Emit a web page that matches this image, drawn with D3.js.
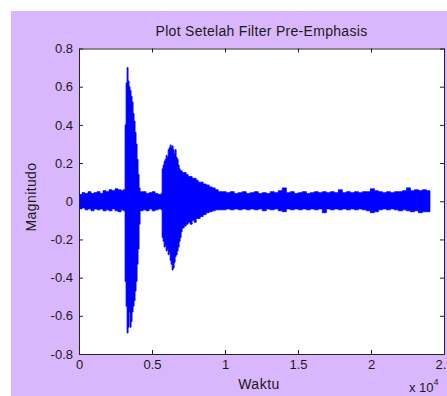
<!DOCTYPE html>
<html>
<head>
<meta charset="utf-8">
<script src="https://cdn.jsdelivr.net/npm/d3@7"></script>
<style>
  body { margin: 0; background: #fff; }
  svg { display: block; }
  .tick text { font-family: "Liberation Sans", Arial, sans-serif; font-size: 13px; fill: #1a1a1a; }
  .tick line, .domain { stroke: #222; }
</style>
</head>
<body>
<div id="chart"></div>
<script>
// sample index, upper envelope and lower envelope of the filtered signal
const sampleIdx = [
  0, 206, 412, 617, 823, 1029, 1235, 1440, 1646, 1852, 2058, 2263, 2469, 2675, 2881, 3018,
  3086, 3155, 3224, 3292, 3361, 3429, 3498, 3567, 3635, 3704, 3772, 3841, 3909, 3978, 4047, 4115, 4184,
  4390, 4595, 4801, 5007, 5213, 5418, 5624,
  5693, 5761, 5830, 5898, 5967, 6036, 6104, 6173, 6241, 6310, 6379, 6447, 6516, 6584, 6653, 6722,
  6790, 6859, 6927, 6996, 7064, 7202, 7339, 7476, 7613, 7750, 7888, 8025, 8162, 8299, 8505, 8711,
  8916, 9122, 9328, 9534,
  9808, 10082, 10357, 10631, 10905, 11180, 11454, 11728, 12003, 12277, 12551, 12826, 13100, 13374,
  13649, 13923, 14198, 14472, 14746, 15021, 15295, 15569, 15844, 16118, 16392, 16667, 16941, 17215,
  17490, 17764, 18038, 18313, 18587, 18861, 19136, 19410, 19685, 19959, 20233, 20508, 20782, 21056,
  21331, 21605, 21879, 22154, 22428, 22702, 22977, 23251, 23525, 23800, 24040
];
const upperEnv = [
  0.035, 0.045, 0.04, 0.05, 0.04, 0.045, 0.05, 0.04, 0.055, 0.05, 0.06, 0.055, 0.065, 0.06, 0.055, 0.06,
  0.06, 0.40, 0.62, 0.70, 0.63, 0.60, 0.58, 0.55, 0.52, 0.46, 0.42, 0.36, 0.30, 0.22, 0.14, 0.07, 0.05,
  0.05, 0.04, 0.045, 0.05, 0.04, 0.035, 0.04,
  0.17, 0.19, 0.21, 0.22, 0.24, 0.23, 0.27, 0.28, 0.295, 0.28, 0.29, 0.27, 0.25, 0.27, 0.23, 0.22,
  0.19, 0.17, 0.16, 0.16, 0.15, 0.15, 0.14, 0.13, 0.13, 0.12, 0.12, 0.11, 0.10, 0.10, 0.09, 0.085,
  0.075, 0.07, 0.06, 0.05,
  0.05, 0.045, 0.05, 0.04, 0.045, 0.05, 0.04, 0.045, 0.05, 0.04, 0.045, 0.04, 0.05, 0.045,
  0.055, 0.07, 0.045, 0.05, 0.04, 0.045, 0.05, 0.04, 0.045, 0.05, 0.045, 0.05, 0.045, 0.05,
  0.045, 0.06, 0.045, 0.05, 0.045, 0.05, 0.045, 0.05, 0.05, 0.065, 0.055, 0.05, 0.045, 0.05,
  0.045, 0.05, 0.05, 0.055, 0.07, 0.055, 0.06, 0.055, 0.06, 0.055, 0.05
];
const lowerEnv = [
  -0.04, -0.035, -0.045, -0.04, -0.05, -0.04, -0.045, -0.04, -0.05, -0.045, -0.05, -0.04, -0.05, -0.055, -0.045, -0.05,
  -0.05, -0.42, -0.55, -0.69, -0.66, -0.58, -0.66, -0.63, -0.58, -0.55, -0.52, -0.47, -0.42, -0.33, -0.25, -0.12, -0.05,
  -0.045, -0.05, -0.04, -0.05, -0.045, -0.04, -0.045,
  -0.19, -0.21, -0.24, -0.23, -0.26, -0.25, -0.28, -0.27, -0.31, -0.33, -0.36, -0.35, -0.32, -0.29, -0.28, -0.26,
  -0.24, -0.21, -0.19, -0.16, -0.14, -0.13, -0.12, -0.11, -0.12, -0.10, -0.11, -0.09, -0.09, -0.08, -0.07, -0.06,
  -0.055, -0.05, -0.045, -0.045,
  -0.045, -0.04, -0.045, -0.04, -0.045, -0.04, -0.045, -0.04, -0.045, -0.04, -0.05, -0.04, -0.045, -0.04,
  -0.05, -0.055, -0.04, -0.045, -0.04, -0.045, -0.04, -0.045, -0.04, -0.045, -0.04, -0.06, -0.04, -0.045,
  -0.04, -0.045, -0.04, -0.045, -0.04, -0.045, -0.04, -0.045, -0.05, -0.06, -0.055, -0.045, -0.04, -0.045,
  -0.04, -0.045, -0.05, -0.045, -0.05, -0.055, -0.05, -0.06, -0.055, -0.055, -0.05
];
const xTicks = [0, 5000, 10000, 15000, 20000, 25000];
const yTicks = [-0.8, -0.6, -0.4, -0.2, 0, 0.2, 0.4, 0.6, 0.8];

const width = 447, height = 396;
const margin = {top: 48.5, right: 3, bottom: 42, left: 79};

const svg = d3.select("#chart").append("svg")
  .attr("width", width)
  .attr("height", height);

// figure background
svg.append("rect")
  .attr("x", 11).attr("y", 11)
  .attr("width", width - 11).attr("height", height - 11)
  .attr("fill", "#dab6fc");

const x = d3.scaleLinear().domain([0, 25000]).range([margin.left, width - margin.right]);
const y = d3.scaleLinear().domain([-0.8, 0.8]).range([height - margin.bottom, margin.top]);

svg.append("rect")
  .attr("x", x(0)).attr("y", y(0.8))
  .attr("width", x(25000) - x(0)).attr("height", y(-0.8) - y(0.8))
  .attr("fill", "#fff");

svg.append("clipPath").attr("id", "plotclip")
  .append("rect")
  .attr("x", x(0)).attr("y", y(0.8))
  .attr("width", x(25000) - x(0)).attr("height", y(-0.8) - y(0.8));

const signal = sampleIdx.map((t, i) => ({t: t, hi: upperEnv[i], lo: lowerEnv[i]}));

const area = d3.area()
  .x(d => x(d.t))
  .y0(d => y(d.lo))
  .y1(d => y(d.hi))
  .curve(d3.curveStepAfter);

svg.append("path")
  .datum(signal)
  .attr("clip-path", "url(#plotclip)")
  .attr("d", area)
  .attr("fill", "#0000ff")
  .attr("stroke", "#0000ff")
  .attr("stroke-width", 0.8);

// axes, ticks pointing inwards like MATLAB
svg.append("g")
  .attr("transform", `translate(0,${y(-0.8)})`)
  .call(d3.axisBottom(x).tickValues(xTicks).tickSize(-4).tickSizeOuter(0).tickPadding(6)
    .tickFormat(d => d / 10000));
svg.append("g")
  .attr("transform", `translate(0,${y(0.8)})`)
  .call(d3.axisTop(x).tickValues(xTicks).tickSize(-4).tickSizeOuter(0).tickFormat(""));
svg.append("g")
  .attr("transform", `translate(${x(0)},0)`)
  .call(d3.axisLeft(y).tickValues(yTicks).tickSize(-4).tickSizeOuter(0).tickPadding(6)
    .tickFormat(d => d === 0 ? "0" : d3.format(".1f")(d).replace("−", "-")));
svg.append("g")
  .attr("transform", `translate(${x(25000)},0)`)
  .call(d3.axisRight(y).tickValues(yTicks).tickSize(-4).tickSizeOuter(0).tickFormat(""));

svg.selectAll(".domain").attr("stroke", "#222");

const font = "'Liberation Sans', Arial, sans-serif";

svg.append("text")
  .attr("x", (x(0) + x(25000)) / 2)
  .attr("y", 36)
  .attr("text-anchor", "middle")
  .style("font-family", font).style("font-size", "14px").style("letter-spacing", "0.3px")
  .style("fill", "#1a1a1a")
  .text("Plot Setelah Filter Pre-Emphasis");

svg.append("text")
  .attr("x", 259)
  .attr("y", 389)
  .attr("text-anchor", "middle")
  .style("font-family", font).style("font-size", "14px").style("letter-spacing", "0.5px")
  .style("fill", "#1a1a1a")
  .text("Waktu");

svg.append("text")
  .attr("transform", "translate(36,197) rotate(-90)")
  .attr("text-anchor", "middle")
  .style("font-family", font).style("font-size", "14px").style("letter-spacing", "0.4px")
  .style("fill", "#1a1a1a")
  .text("Magnitudo");

const mult = svg.append("text")
  .attr("x", 409)
  .attr("y", 392)
  .style("font-family", font).style("font-size", "13px").style("fill", "#1a1a1a");
mult.append("tspan").text("x 10");
mult.append("tspan").attr("dy", -7).style("font-size", "9px").text("4");
</script>
</body>
</html>
